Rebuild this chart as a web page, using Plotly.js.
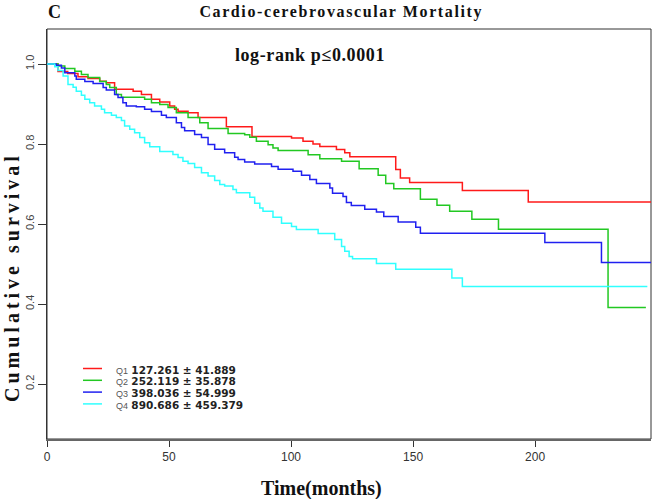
<!DOCTYPE html>
<html>
<head>
<meta charset="utf-8">
<script src="https://cdn.plot.ly/plotly-3.0.1.min.js"></script>
<style>html,body{margin:0;padding:0;background:#fff;}</style>
</head>
<body>
<div id="chart" style="width:653px;height:499px;"></div>
<script>
// ---- data ----
const groups = ['Q1', 'Q2', 'Q3', 'Q4'];
const means = ['127.261', '252.119', '398.036', '890.686'];
const sds = ['41.889', '35.878', '54.999', '459.379'];
const colors = ['#ff1a1a', '#22c822', '#2020f0', '#30ffff'];

const q1Time = [0, 4.5, 8.5, 12.7, 16.8, 21.6, 24.3, 27.7, 35.3, 38.7, 42.8, 46.2, 50.3, 52.3, 53.7, 57.8, 61.9, 73.5, 84.0, 100.2, 104.9, 109.0, 111.8, 118.6, 122.0, 124.1, 142.9, 144.8, 148.6, 170.2, 197.2, 247.5];
const q1Surv = [1.0, 0.981, 0.976, 0.968, 0.964, 0.957, 0.953, 0.937, 0.932, 0.924, 0.912, 0.905, 0.895, 0.887, 0.882, 0.878, 0.866, 0.843, 0.819, 0.815, 0.807, 0.800, 0.794, 0.786, 0.778, 0.768, 0.736, 0.715, 0.704, 0.684, 0.655, 0.655];

const q2Time = [0, 4.5, 7.3, 11.4, 14.1, 16.8, 21.6, 24.3, 25.7, 28.4, 30.5, 40.0, 42.8, 46.2, 49.6, 53.0, 57.8, 62.6, 66.0, 74.2, 81.0, 83.1, 85.8, 90.6, 92.6, 94.7, 107.0, 111.8, 120.7, 127.9, 135.7, 138.8, 142.1, 153.0, 159.8, 165.0, 174.1, 185.0, 229.9, 245.4];
const q2Surv = [1.0, 0.995, 0.989, 0.982, 0.974, 0.966, 0.956, 0.949, 0.941, 0.924, 0.917, 0.912, 0.903, 0.899, 0.891, 0.878, 0.866, 0.853, 0.839, 0.826, 0.823, 0.817, 0.807, 0.798, 0.790, 0.784, 0.773, 0.763, 0.757, 0.738, 0.722, 0.701, 0.688, 0.662, 0.647, 0.632, 0.612, 0.587, 0.391, 0.391];

const q3Time = [0, 3.8, 5.9, 7.3, 11.4, 12.0, 15.5, 18.9, 23.0, 24.3, 27.7, 29.1, 31.1, 32.5, 36.6, 40.0, 42.8, 46.9, 48.9, 53.0, 55.1, 56.4, 60.5, 63.3, 66.0, 68.7, 72.8, 76.9, 78.3, 81.0, 85.1, 92.0, 94.7, 100.8, 104.3, 107.7, 110.4, 115.9, 117.0, 121.3, 122.7, 124.7, 130.2, 135.0, 138.0, 143.9, 151.1, 153.0, 204.0, 227.2, 247.5];
const q3Surv = [1.0, 0.997, 0.990, 0.978, 0.970, 0.962, 0.956, 0.951, 0.941, 0.935, 0.924, 0.916, 0.903, 0.895, 0.893, 0.887, 0.881, 0.872, 0.866, 0.853, 0.841, 0.833, 0.824, 0.816, 0.799, 0.787, 0.778, 0.767, 0.761, 0.755, 0.750, 0.744, 0.737, 0.732, 0.722, 0.711, 0.701, 0.690, 0.677, 0.669, 0.654, 0.646, 0.637, 0.630, 0.619, 0.605, 0.592, 0.577, 0.554, 0.504, 0.504];

const q4Time = [0, 3.2, 4.5, 6.6, 8.6, 10.7, 12.0, 14.1, 15.5, 17.5, 19.5, 22.3, 23.6, 26.4, 28.4, 30.5, 31.8, 33.9, 35.9, 38.0, 40.0, 42.1, 46.2, 51.6, 53.7, 55.7, 57.8, 60.5, 63.3, 66.0, 68.7, 70.8, 72.8, 76.2, 77.6, 83.1, 85.1, 87.2, 88.5, 92.6, 96.1, 100.2, 102.2, 111.1, 117.9, 120.7, 122.0, 123.8, 125.2, 135.0, 142.9, 165.9, 170.2, 246.0];
const q4Surv = [1.0, 0.993, 0.984, 0.970, 0.949, 0.942, 0.932, 0.922, 0.912, 0.903, 0.895, 0.887, 0.878, 0.872, 0.866, 0.859, 0.845, 0.837, 0.828, 0.816, 0.803, 0.793, 0.781, 0.774, 0.766, 0.757, 0.751, 0.741, 0.728, 0.720, 0.709, 0.699, 0.695, 0.686, 0.678, 0.667, 0.652, 0.640, 0.632, 0.617, 0.602, 0.594, 0.586, 0.576, 0.561, 0.544, 0.532, 0.519, 0.513, 0.501, 0.487, 0.465, 0.444, 0.444];

const xTicks = [0, 50, 100, 150, 200];
const yTicks = [0.2, 0.4, 0.6, 0.8, 1.0];
const yTickText = ['0.2', '0.4', '0.6', '0.8', '1.0'];

// ---- build chart ----
const times = [q1Time, q2Time, q3Time, q4Time];
const survs = [q1Surv, q2Surv, q3Surv, q4Surv];
const traces = groups.map((g, i) => ({
  type: 'scatter', mode: 'lines', name: g,
  x: times[i], y: survs[i],
  line: {shape: 'hv', color: colors[i], width: 1.5},
  showlegend: false, hoverinfo: 'skip'
}));

const W = 653, H = 499, L = 47, R = 2, T = 29, B = 60;
const pw = W - L - R, ph = H - T - B;
const px = v => (v - L) / pw;          // pixel -> paper x
const py = v => (H - B - v) / ph;      // pixel -> paper y

const serif = 'Liberation Serif, Times New Roman, serif';
const sans = 'Liberation Sans, Arial, sans-serif';
const legendFont = 'DejaVu Sans, Verdana, sans-serif';

const annotations = [
  {text: '<b>C</b>', x: px(46), y: py(12), xanchor: 'left', yanchor: 'middle',
   font: {family: serif, size: 18, color: '#111'}},
  {text: '<b>Cardio-cerebrovascular Mortality</b>', x: px(341), y: py(12), xanchor: 'center', yanchor: 'middle',
   font: {family: serif, size: 16, color: '#111'}},
  {text: '<b>log-rank p≤0.0001</b>', x: px(310), y: py(55), xanchor: 'center', yanchor: 'middle',
   font: {family: serif, size: 18, color: '#111'}},
  {text: '<b>Time(months)</b>', x: px(321), y: py(488), xanchor: 'center', yanchor: 'middle',
   font: {family: serif, size: 20, color: '#111'}},
  {text: '<b>Cumulative survival</b>', x: px(12), y: py(277), xanchor: 'center', yanchor: 'middle', textangle: -90,
   font: {family: serif, size: 20, color: '#111'}}
];
const shapes = [
  {type: 'rect', xref: 'paper', yref: 'paper', x0: 0, x1: 1, y0: 0, y1: 1,
   line: {color: '#333', width: 1}, layer: 'below'}
];
groups.forEach((g, i) => {
  const yy = 368.5 + i * 11.8;
  shapes.push({type: 'line', xref: 'paper', yref: 'paper', x0: px(83), x1: px(102), y0: py(yy), y1: py(yy),
    line: {color: colors[i], width: 1.5}});
  annotations.push({
    text: '<span style="font-size:9px;color:#555;font-family:Liberation Sans,Arial,sans-serif">' + g + '</span> <b>' + means[i] + ' ± ' + sds[i] + '</b>',
    x: px(114), y: py(yy + 1), xanchor: 'left', yanchor: 'middle', showarrow: false,
    font: {family: legendFont, size: 10.5, color: '#222'}
  });
});
annotations.forEach(a => { a.xref = 'paper'; a.yref = 'paper'; a.showarrow = false; });

const layout = {
  width: W, height: H, autosize: false,
  margin: {l: L, r: R, t: T, b: B, pad: 0},
  paper_bgcolor: '#fff', plot_bgcolor: '#fff',
  showlegend: false,
  xaxis: {
    range: [0, 247.5], tickvals: xTicks, ticks: 'outside', ticklen: 6, tickwidth: 1, tickcolor: '#333',
    showline: true, linecolor: '#666', linewidth: 2, showgrid: false, zeroline: false,
    tickfont: {family: sans, size: 12, color: '#333'}, fixedrange: true
  },
  yaxis: {
    range: [0.0625, 1.0875], tickvals: yTicks, ticktext: yTickText, tickangle: -90,
    ticks: 'outside', ticklen: 8, tickwidth: 1, tickcolor: '#333',
    showline: true, linecolor: '#333', linewidth: 1, showgrid: false, zeroline: false,
    tickfont: {family: sans, size: 11, color: '#444'}, fixedrange: true
  },
  annotations: annotations,
  shapes: shapes
};

Plotly.newPlot('chart', traces, layout, {staticPlot: true, displayModeBar: false}).then(() => {
  document.querySelectorAll('.annotation-text').forEach(el => {
    const t = el.textContent;
    if (t === 'Cumulative survival') el.style.letterSpacing = '4px';
    if (t === 'Cardio-cerebrovascular Mortality') el.style.letterSpacing = '1.6px';
    if (t.indexOf('log-rank') === 0) el.style.letterSpacing = '0.6px';
  });
});
</script>
</body>
</html>
